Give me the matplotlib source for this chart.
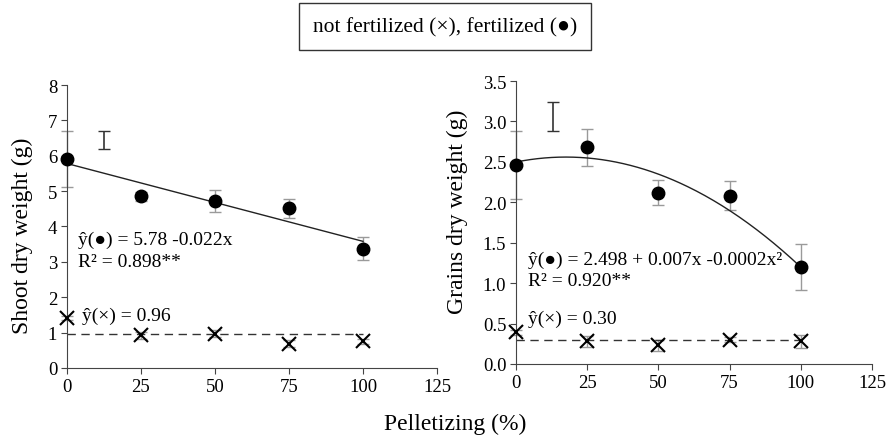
import numpy as np
import matplotlib.pyplot as plt

plt.rcParams['font.family'] = ['Liberation Serif', 'DejaVu Serif', 'DejaVu Sans']

doses = [0, 25, 50, 75, 100]

# shoot dry weight (g)
shoot_fert = [5.90, 4.85, 4.72, 4.51, 3.37]
shoot_fert_err = [0.79, 0.12, 0.30, 0.26, 0.32]
shoot_nofert = [1.41, 0.92, 0.97, 0.69, 0.75]
shoot_nofert_err = [0.05, 0.10, 0.10, 0.09, 0.08]
shoot_lsd = (12.5, 6.45, 0.26)
shoot_coef = [5.78, -0.022]
shoot_mean = 0.96

# grains dry weight (g)
grain_fert = [2.46, 2.68, 2.12, 2.08, 1.20]
grain_fert_err = [0.42, 0.23, 0.15, 0.18, 0.29]
grain_nofert = [0.39, 0.28, 0.23, 0.30, 0.28]
grain_nofert_err = [0.03, 0.07, 0.07, 0.03, 0.08]
grain_lsd = (13, 3.06, 0.18)
grain_coef = [2.498, 0.007, -0.0002]
grain_mean = 0.30

fig = plt.figure(figsize=(8.86, 4.39), dpi=100)
ax1 = fig.add_axes([0.0756, 0.1595, 0.4176, 0.6446])
ax2 = fig.add_axes([0.5824, 0.1686, 0.4018, 0.6446])

grey = '#9a9a9a'


def panel(ax, fert, fert_err, nofert, nofert_err, lsd, coef, mean, ylim, yticks):
    xs = np.linspace(0, 100, 200)
    ys = sum(c * xs ** i for i, c in enumerate(coef))
    ax.plot(xs, ys, color='#222222', lw=1, zorder=2)
    ax.plot([0, 100], [mean, mean], color='#333333', lw=1, ls=(0, (6, 4)), zorder=2)
    for y, e in [(fert, fert_err), (nofert, nofert_err)]:
        eb = ax.errorbar(doses, y, yerr=e, fmt='none', ecolor=grey, capsize=4, elinewidth=1, zorder=1)
        for art in eb.lines[1] + eb.lines[2]:
            art.set_clip_on(False)
    ax.plot(doses, fert, 'o', color='black', ms=9, zorder=3, clip_on=False)
    ax.plot(doses, nofert, 'x', color='black', ms=10, mew=1.5, zorder=3, clip_on=False)
    ax.errorbar([lsd[0]], [lsd[1]], yerr=[lsd[2]], fmt='none', ecolor='#333333', capsize=4, elinewidth=1.2)
    ax.set_xlim(0, 125)
    ax.set_ylim(*ylim)
    ax.set_xticks([0, 25, 50, 75, 100, 125])
    ax.set_yticks(yticks)
    for s in ['top', 'right']:
        ax.spines[s].set_visible(False)
    for s in ['left', 'bottom']:
        ax.spines[s].set_color('#444444')
    ax.tick_params(direction='out', length=4, color='#444444', labelsize=13.5, pad=3)


panel(ax1, shoot_fert, shoot_fert_err, shoot_nofert, shoot_nofert_err, shoot_lsd,
      shoot_coef, shoot_mean, (0, 8), range(0, 9))
panel(ax2, grain_fert, grain_fert_err, grain_nofert, grain_nofert_err, grain_lsd,
      grain_coef, grain_mean, (0, 3.5), np.arange(0, 3.51, 0.5))
ax2.set_yticklabels([f'{v:.1f}' for v in np.arange(0, 3.51, 0.5)])

ax1.set_ylabel('Shoot dry weight (g)', fontsize=17)
ax2.set_ylabel('Grains dry weight (g)', fontsize=17)
ax1.yaxis.set_label_coords(-0.092, 0.47)
ax2.yaxis.set_label_coords(-0.135, 0.54)

fs = 14
ax1.text(3.7, 3.64, 'ŷ(●) = 5.78 -0.022x', fontsize=fs, va='center')
ax1.text(3.7, 3.02, 'R² = 0.898**', fontsize=fs, va='center')
ax1.text(5, 1.5, 'ŷ(×) = 0.96', fontsize=fs, va='center')
ax2.text(4.2, 1.30, 'ŷ(●) = 2.498 + 0.007x -0.0002x²', fontsize=fs, va='center')
ax2.text(4.2, 1.03, 'R² = 0.920**', fontsize=fs, va='center')
ax2.text(4.2, 0.56, 'ŷ(×) = 0.30', fontsize=fs, va='center')

fig.text(0.5135, 0.033, 'Pelletizing (%)', fontsize=17, ha='center', va='center')
fig.text(0.502, 0.937, 'not fertilized (×), fertilized (●)', fontsize=15.5, ha='center', va='center',
         bbox=dict(boxstyle='square,pad=0.65', fc='white', ec='#333333', lw=1))

fig.savefig('out.png', dpi=100)
